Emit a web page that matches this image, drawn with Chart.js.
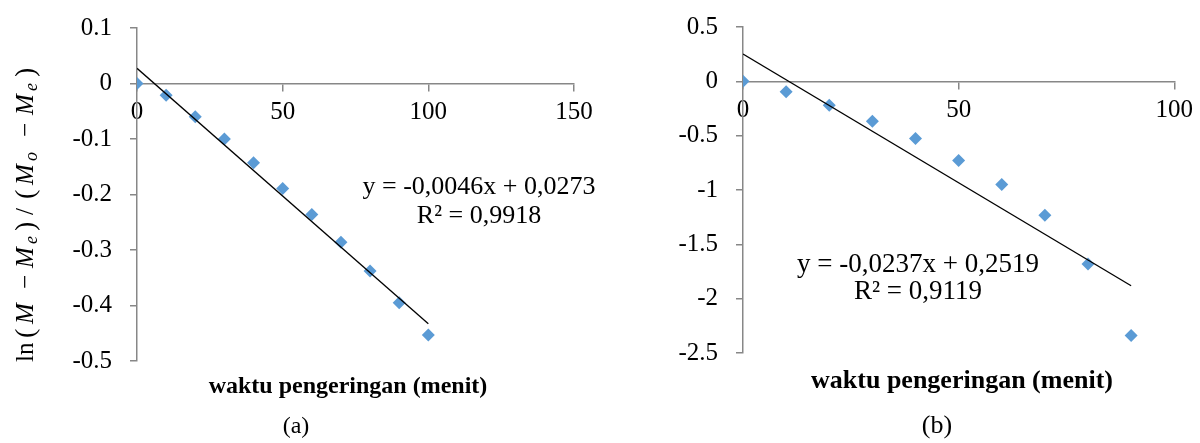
<!DOCTYPE html>
<html>
<head>
<meta charset="utf-8">
<title>waktu pengeringan</title>
<script src="https://cdn.jsdelivr.net/npm/chart.js@4.4.1/dist/chart.umd.min.js"></script>
<style>
  html, body { margin: 0; padding: 0; background: #fff; }
  #wrap { position: relative; width: 1200px; height: 443px; }
  canvas { position: absolute; top: 0; }
  #chart-a { left: 0; }
  #chart-b { left: 600px; }
</style>
</head>
<body>
<div id="wrap">
  <canvas id="chart-a" width="600" height="443"></canvas>
  <canvas id="chart-b" width="600" height="443"></canvas>
</div>
<script>
//drying time (minutes)
const timeA = [0, 10, 20, 30, 40, 50, 60, 70, 80, 90, 100];
const timeB = [0, 10, 20, 30, 40, 50, 60, 70, 80, 90];

//ln((M - Me)/(Mo - Me))
const ratioA = [0, -0.021, -0.060, -0.100, -0.143, -0.189, -0.236, -0.286, -0.338, -0.395, -0.453];
const ratioB = [0, -0.095, -0.220, -0.368, -0.527, -0.729, -0.950, -1.232, -1.682, -2.338];

//trendlines as printed on the chart
const slopes = [-0.0046, -0.0237];
const intercepts = [0.0273, 0.2519];
const rSquared = [0.9918, 0.9119];

//tick labels
const xTicksA = [0, 50, 100, 150];
const yTicksA = [0.1, 0, -0.1, -0.2, -0.3, -0.4, -0.5];
const xTicksB = [0, 50, 100];
const yTicksB = [0.5, 0, -0.5, -1, -1.5, -2, -2.5];

const xTitle = "waktu pengeringan (menit)";
const serif = "'Liberation Serif', 'Times New Roman', serif";
const axisGray = "#878787";
const markerBlue = "#5b9bd5";

Chart.defaults.font.family = serif;
Chart.defaults.font.size = 25;
Chart.defaults.color = "#000";

//decimal comma like the original
const fmt = (v) => v.toFixed(4).replace(".", ",");

//y title of (a): ln(M − Me)/(Mo − Me), drawn piece by piece
function drawYTitle(ctx, cx, cy) {
  const reg = "25px " + serif;
  const par = "28px " + serif;
  const ita = "italic 25px " + serif;
  const sub = "italic 18px " + serif;
  //text, font, shift down, offset along the text
  const parts = [
    ["ln", reg, 0, 0],
    ["(", par, 1, 24],
    ["M", ita, 0, 38],
    ["\u2212", reg, 0, 73],
    ["M", ita, 0, 94],
    ["e", sub, 4, 118],
    [")", par, 1, 131],
    ["/", reg, 0, 147],
    ["(", par, 1, 163],
    ["M", ita, 0, 177],
    ["o", sub, 4, 201],
    ["\u2212", reg, 0, 225],
    ["M", ita, 0, 247],
    ["e", sub, 4, 271],
    [")", par, 1, 285],
  ];
  ctx.save();
  ctx.translate(cx, cy);
  ctx.rotate(-Math.PI / 2);
  ctx.fillStyle = "#000";
  ctx.textBaseline = "alphabetic";
  ctx.textAlign = "left";
  parts.forEach((p) => {
    ctx.font = p[1];
    ctx.fillText(p[0], p[3], p[2]);
  });
  ctx.restore();
}

//plugin that writes the equation, axis title and panel letter
const textPlugin = {
  id: "panelText",
  afterDraw(chart, args, opts) {
    const ctx = chart.ctx;
    ctx.save();
    ctx.fillStyle = "#000";
    ctx.textAlign = "center";
    ctx.textBaseline = "alphabetic";
    ctx.font = opts.eqSize + "px " + serif;
    ctx.fillText("y = " + fmt(slopes[opts.k]) + "x + " + fmt(intercepts[opts.k]), opts.eqX, opts.eqY1);
    ctx.fillText("R\u00b2 = " + fmt(rSquared[opts.k]), opts.eqX, opts.eqY2);
    ctx.font = "bold " + opts.titleSize + "px " + serif;
    ctx.fillText(xTitle, opts.titleX, opts.titleY);
    ctx.font = opts.titleSize + "px " + serif;
    ctx.fillText(opts.panel, opts.panelX, opts.panelY);
    ctx.restore();
    if (opts.yTitle) drawYTitle(ctx, 33, 362);
  },
};

function makeChart(id, k, times, ratios, xTicks, yTicks, padding, text) {
  const points = times.map((t, i) => ({ x: t, y: ratios[i] }));
  const xEnd = times[times.length - 1];
  const trend = [
    { x: 0, y: intercepts[k] },
    { x: xEnd, y: slopes[k] * xEnd + intercepts[k] },
  ];
  return new Chart(document.getElementById(id), {
    type: "scatter",
    plugins: [textPlugin],
    data: {
      datasets: [
        {
          data: trend,
          showLine: true,
          borderColor: "#000",
          borderWidth: 1.3,
          pointRadius: 0,
          order: 0,
        },
        {
          data: points,
          pointStyle: "rectRot",
          pointRadius: 6.5,
          pointBorderWidth: 0,
          backgroundColor: markerBlue,
          borderColor: markerBlue,
          order: 1,
        },
      ],
    },
    options: {
      responsive: false,
      animation: false,
      layout: { padding: padding },
      plugins: {
        legend: { display: false },
        tooltip: { enabled: false },
        panelText: text,
      },
      scales: {
        x: {
          type: "linear",
          position: { y: 0 },
          min: xTicks[0],
          max: xTicks[xTicks.length - 1],
          afterBuildTicks: (s) => { s.ticks = xTicks.map((v) => ({ value: v })); },
          grid: { drawOnChartArea: false, tickLength: 7, color: axisGray, lineWidth: 1.5 },
          border: { color: axisGray, width: 1.5 },
          ticks: { padding: 7, maxRotation: 0, callback: (v) => String(v) },
        },
        y: {
          type: "linear",
          position: "left",
          min: yTicks[yTicks.length - 1],
          max: yTicks[0],
          //fixed width, and no extra room above/below for the labels
          afterFit: (s) => { s.width = 100; s.paddingTop = 0; s.paddingBottom = 0; },
          afterBuildTicks: (s) => { s.ticks = yTicks.map((v) => ({ value: v })); },
          grid: { drawOnChartArea: false, tickLength: 7, color: axisGray, lineWidth: 1.5 },
          border: { color: axisGray, width: 1.5 },
          ticks: { padding: 18, callback: (v) => String(Math.round(v * 10) / 10) },
        },
      },
    },
  });
}

makeChart("chart-a", 0, timeA, ratioA, xTicksA, yTicksA,
  { left: 37, right: 26, top: 28, bottom: 82 },
  { k: 0, eqX: 479, eqY1: 194, eqY2: 223, eqSize: 26,
    titleX: 348, titleY: 393, titleSize: 24, panel: "(a)", panelX: 296, panelY: 433, yTitle: true });

makeChart("chart-b", 1, timeB, ratioB, xTicksB, yTicksB,
  { left: 43, right: 22, top: 27, bottom: 90 },
  { k: 1, eqX: 318, eqY1: 272, eqY2: 299, eqSize: 27,
    titleX: 362, titleY: 388, titleSize: 26, panel: "(b)", panelX: 337, panelY: 433, yTitle: false });
</script>
</body>
</html>
